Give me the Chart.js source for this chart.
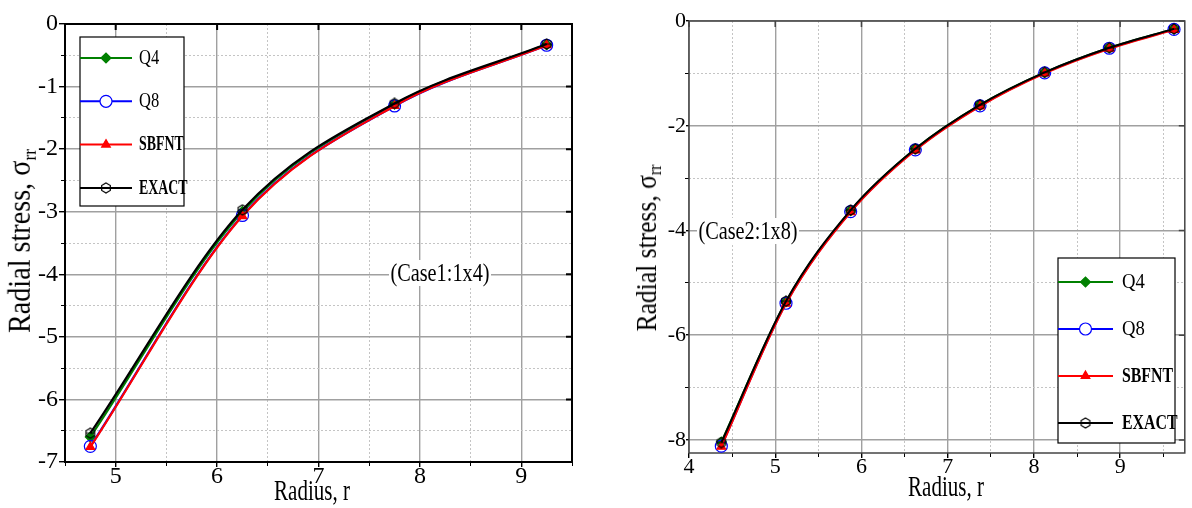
<!DOCTYPE html>
<html>
<head>
<meta charset="utf-8">
<script src="https://cdn.jsdelivr.net/npm/chart.js@4.4.1/dist/chart.umd.min.js"></script>
<style>
  body { margin: 0; background: #fff; width: 1192px; height: 508px; position: relative; overflow: hidden; font-family: 'Liberation Serif', 'Times New Roman', serif; }
  canvas { position: absolute; top: 0; }
  .lbl { position: absolute; white-space: nowrap; color: #000; line-height: 1; }
  .lbl sub { font-size: 0.62em; vertical-align: -0.28em; }
  .note { background: #fff; padding: 0 2px; }
</style>
</head>
<body>
<canvas id="chartCase1" width="590" height="508" style="left:0"></canvas>
<canvas id="chartCase2" width="592" height="508" style="left:600px"></canvas>

<div class="lbl" style="left:21px; top:241px; font-size:32px; transform: translate(-50%,-50%) rotate(-90deg) scaleX(0.88);">Radial stress, σ<sub>rr</sub></div>
<div class="lbl" style="left:312px; top:490px; font-size:30px; transform: translate(-50%,-50%) scaleX(0.7);">Radius, r</div>
<div class="lbl note" style="left:440px; top:273px; font-size:26px; transform: translate(-50%,-50%) scaleX(0.78);">(Case1:1x4)</div>

<div class="lbl" style="left:648px; top:248px; font-size:29px; transform: translate(-50%,-50%) rotate(-90deg) scaleX(0.88);">Radial stress, σ<sub>rr</sub></div>
<div class="lbl" style="left:946px; top:486px; font-size:30px; transform: translate(-50%,-50%) scaleX(0.7);">Radius, r</div>
<div class="lbl note" style="left:748px; top:231px; font-size:26px; transform: translate(-50%,-50%) scaleX(0.78);">(Case2:1x8)</div>

<script>
// Case 1 : 1x4 mesh, element mid-points
const rCase1 = [4.75, 6.25, 7.75, 9.25];
const q4Case1 = [-6.60, -3.00, -1.28, -0.33];
const q8Case1 = [-6.75, -3.06, -1.31, -0.34];
const sbfntCase1 = [-6.76, -3.07, -1.31, -0.34];
const exactCase1 = [-6.54, -2.97, -1.27, -0.32];

// Case 2 : 1x8 mesh
const rCase2 = [4.375, 5.125, 5.875, 6.625, 7.375, 8.125, 8.875, 9.625];
const q4Case2 = [-8.04, -5.36, -3.62, -2.44, -1.60, -0.98, -0.51, -0.15];
const q8Case2 = [-8.12, -5.39, -3.64, -2.46, -1.62, -0.99, -0.52, -0.16];
const sbfntCase2 = [-8.13, -5.40, -3.65, -2.47, -1.63, -1.00, -0.53, -0.17];
const exactCase2 = [-8.05, -5.35, -3.61, -2.44, -1.60, -0.98, -0.51, -0.15];

const seriesNames = ['Q4', 'Q8', 'SBFNT', 'EXACT'];

// tick labels / grid positions
const xTicksCase1 = [5, 6, 7, 8, 9];
const xMinorCase1 = [4.5, 5.5, 6.5, 7.5, 8.5, 9.5];
const yTicksCase1 = [-7, -6, -5, -4, -3, -2, -1, 0];
const yMinorCase1 = [-6.5, -5.5, -4.5, -3.5, -2.5, -1.5, -0.5];

const xTicksCase2 = [4, 5, 6, 7, 8, 9];
const xMinorCase2 = [4.5, 5.5, 6.5, 7.5, 8.5, 9.5];
const yTicksCase2 = [-8, -6, -4, -2, 0];
const yMinorCase2 = [-7, -5, -3, -1];

// hexagon marker for the exact solution
function hexMark(size, color) {
    const c = document.createElement('canvas');
    c.width = size; c.height = size;
    const g = c.getContext('2d');
    const m = size / 2, r = size / 2 - 1;
    g.strokeStyle = color;
    g.lineWidth = 1.2;
    g.beginPath();
    for (let k = 0; k < 6; k++) {
        const a = -Math.PI / 2 + k * Math.PI / 3;
        const px = m + r * Math.cos(a), py = m + r * Math.sin(a);
        if (k === 0) g.moveTo(px, py); else g.lineTo(px, py);
    }
    g.closePath();
    g.moveTo(m - r * 0.87, m);
    g.lineTo(m + r * 0.87, m);
    g.stroke();
    return c;
}
const hexIcon = hexMark(12, '#000');

const seriesStyle = [
    { color: '#008000', pointStyle: 'rectRot', radius: 5, fill: '#008000', order: 3 },
    { color: '#0000ff', pointStyle: 'circle', radius: 6, fill: 'rgba(255,255,255,0)', order: 2 },
    { color: '#ff0000', pointStyle: 'triangle', radius: 5, fill: '#ff0000', order: 1 },
    { color: '#000000', pointStyle: hexIcon, radius: 5, fill: 'rgba(255,255,255,0)', order: 0 }
];

function buildDatasets(r, lists, width) {
    return lists.map((vals, i) => {
        const s = seriesStyle[i];
        return {
            label: seriesNames[i],
            data: r.map((x, k) => ({ x: x, y: vals[k] })),
            borderColor: s.color,
            borderWidth: width,
            pointStyle: s.pointStyle,
            pointRadius: s.radius,
            pointBackgroundColor: s.fill,
            pointBorderColor: s.color,
            pointBorderWidth: 1.2,
            cubicInterpolationMode: 'monotone',
            order: s.order
        };
    });
}

// box round the plot area, with inward ticks on the top and right sides
const frameBox = {
    id: 'frameBox',
    beforeDatasetsDraw(chart, args, opts) {
        const { ctx, chartArea: a, scales } = chart;
        ctx.save();
        ctx.strokeStyle = opts.color;
        ctx.lineWidth = opts.width;
        ctx.strokeRect(a.left, a.top, a.right - a.left, a.bottom - a.top);
        ctx.beginPath();
        scales.x.ticks.forEach(t => {
            const px = scales.x.getPixelForValue(t.value);
            ctx.moveTo(px, a.top);
            ctx.lineTo(px, a.top + opts.tick);
        });
        scales.y.ticks.forEach(t => {
            const py = scales.y.getPixelForValue(t.value);
            ctx.moveTo(a.right, py);
            ctx.lineTo(a.right - opts.tick, py);
        });
        ctx.stroke();
        ctx.restore();
    }
};

// legend with the line sample running through the marker
const legendBox = {
    id: 'legendBox',
    afterDraw(chart, args, o) {
        const ctx = chart.ctx;
        ctx.save();
        ctx.fillStyle = '#fff';
        ctx.fillRect(o.x, o.y, o.w, o.h);
        ctx.strokeStyle = '#000';
        ctx.lineWidth = 1.2;
        ctx.strokeRect(o.x, o.y, o.w, o.h);
        chart.data.datasets.forEach((ds, i) => {
            const y = o.y + o.first + i * o.gap;
            ctx.strokeStyle = ds.borderColor;
            ctx.lineWidth = 2;
            ctx.beginPath();
            ctx.moveTo(o.x, y);
            ctx.lineTo(o.x + o.line, y);
            ctx.stroke();
            ctx.fillStyle = ds.pointBackgroundColor === 'rgba(255,255,255,0)' ? '#fff' : ds.pointBackgroundColor;
            ctx.strokeStyle = ds.pointBorderColor;
            ctx.lineWidth = 1.2;
            Chart.helpers.drawPoint(ctx, { pointStyle: ds.pointStyle, radius: ds.pointRadius, borderWidth: 1.2, rotation: 0 }, o.x + o.line / 2, y);
            const bold = ds.label === 'SBFNT' || ds.label === 'EXACT';
            ctx.fillStyle = '#000';
            ctx.font = (bold ? 'bold ' : '') + o.size + 'px "Liberation Serif"';
            ctx.textBaseline = 'middle';
            ctx.save();
            ctx.translate(o.x + o.line + o.textGap, y);
            ctx.scale(bold ? o.boldScale : o.scale, 1);
            ctx.fillText(ds.label, 0, 0);
            ctx.restore();
        });
        ctx.restore();
    }
};

function makeChart(id, c) {
    const tickFont = { family: '"Liberation Serif"', size: c.fontSize, lineHeight: 0.8 };
    new Chart(document.getElementById(id), {
        type: 'line',
        data: { datasets: c.datasets },
        plugins: [frameBox, legendBox],
        options: {
            responsive: false,
            animation: false,
            layout: { padding: { top: c.padTop, right: c.padRight, left: 0, bottom: 0 } },
            plugins: {
                legend: { display: false },
                tooltip: { enabled: false },
                frameBox: { color: c.frameColor, width: c.frameWidth, tick: 6 },
                legendBox: c.legend
            },
            scales: {
                x: {
                    type: 'linear', position: 'bottom', min: c.xMin, max: c.xMax, weight: 1,
                    afterBuildTicks: s => { s.ticks = c.xTicks.map(v => ({ value: v })); },
                    afterFit: s => { s.height = c.xHeight; },
                    grid: { color: '#a0a0a0', lineWidth: 1.4, tickColor: '#000', tickLength: c.xTickLen, tickWidth: 1.4 },
                    border: { display: false },
                    ticks: { color: '#000', font: tickFont, padding: 0, autoSkip: false, maxRotation: 0, callback: v => String(v) }
                },
                xMinor: {
                    type: 'linear', position: 'bottom', min: c.xMin, max: c.xMax, weight: 0,
                    afterBuildTicks: s => { s.ticks = c.xMinor.map(v => ({ value: v })); },
                    afterFit: s => { s.height = 0; },
                    grid: { color: '#c4c4c4', lineWidth: 1, tickColor: '#000', tickLength: 4 },
                    border: { display: false, dash: [2, 2] },
                    ticks: { display: false }
                },
                y: {
                    type: 'linear', position: 'left', min: c.yMin, max: c.yMax, weight: 1,
                    afterBuildTicks: s => { s.ticks = c.yTicks.map(v => ({ value: v })); },
                    afterFit: s => { s.width = c.yWidth; },
                    grid: { color: '#a0a0a0', lineWidth: 1.4, tickColor: '#000', tickLength: c.yTickLen, tickWidth: 1.4 },
                    border: { display: false },
                    ticks: { color: '#000', font: tickFont, padding: c.yPad, autoSkip: false, callback: v => String(v) }
                },
                yMinor: {
                    type: 'linear', position: 'left', min: c.yMin, max: c.yMax, weight: 0,
                    afterBuildTicks: s => { s.ticks = c.yMinor.map(v => ({ value: v })); },
                    afterFit: s => { s.width = 0; },
                    grid: { color: '#c4c4c4', lineWidth: 1, tickColor: '#000', tickLength: 4 },
                    border: { display: false, dash: [2, 2] },
                    ticks: { display: false }
                }
            }
        }
    });
}

makeChart('chartCase1', {
    datasets: buildDatasets(rCase1, [q4Case1, q8Case1, sbfntCase1, exactCase1], 2.2),
    xMin: 4.5, xMax: 9.5, yMin: -7, yMax: 0,
    xTicks: xTicksCase1, xMinor: xMinorCase1, yTicks: yTicksCase1, yMinor: yMinorCase1,
    padTop: 24, padRight: 18, xHeight: 46, yWidth: 65,
    fontSize: 24, xTickLen: 5, yTickLen: 6, yPad: 1,
    frameColor: '#000', frameWidth: 2,
    legend: { x: 80, y: 37, w: 104, h: 169, first: 21, gap: 43.3, line: 52, textGap: 7, size: 22, scale: 0.75, boldScale: 0.63 }
});

makeChart('chartCase2', {
    datasets: buildDatasets(rCase2, [q4Case2, q8Case2, sbfntCase2, exactCase2], 2),
    xMin: 4, xMax: 9.75, yMin: -8.25, yMax: 0,
    xTicks: xTicksCase2, xMinor: xMinorCase2, yTicks: yTicksCase2, yMinor: yMinorCase2,
    padTop: 21, padRight: 5, xHeight: 55, yWidth: 89,
    fontSize: 22, xTickLen: 5, yTickLen: 3, yPad: 0,
    frameColor: '#444', frameWidth: 1.5,
    legend: { x: 458, y: 258, w: 117, h: 185, first: 24, gap: 47, line: 55, textGap: 9, size: 22, scale: 0.85, boldScale: 0.72 }
});
</script>
</body>
</html>
